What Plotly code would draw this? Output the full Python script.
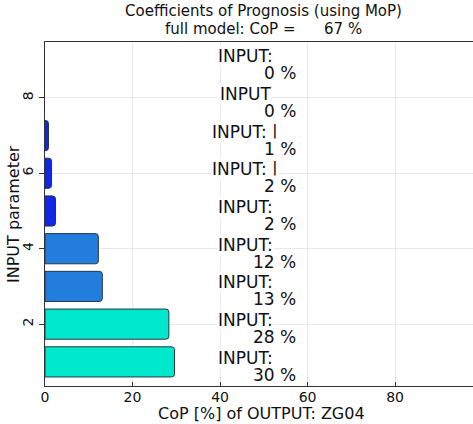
import plotly.graph_objects as go

# CoP contribution of each input parameter (percent)
params = [1, 2, 3, 4, 5, 6, 7, 8, 9]
cop = [29.6, 28.3, 13.1, 12.2, 2.4, 1.5, 0.8, 0.0, 0.0]
names = ["INPUT:", "INPUT:", "INPUT:", "INPUT:", "INPUT:", "INPUT: |", "INPUT: |", "INPUT", "INPUT:"]
bar_colors = ["#00e8cc", "#00e8cc", "#237ddc", "#237ddc",
              "#1028e6", "#1028e6", "#1028e6", "#1028e6", "#1028e6"]
full_cop = 67
xticks = [0, 20, 40, 60, 80]
yticks = [2, 4, 6, 8]

FONT = "DejaVu Sans"

# empty bars get no outline
line_w = [1 if v >= 0.5 else 0 for v in cop]

fig = go.Figure(go.Bar(
    x=cop, y=params, orientation="h", width=0.8,
    marker=dict(color=bar_colors, line=dict(color="#23384a", width=line_w)),
    hoverinfo="skip",
))

annotations = []
for p, v, n in zip(params, cop, names):
    annotations.append(dict(
        x=45.7, y=p, xref="x", yref="y", text=n, showarrow=False,
        xanchor="center", yanchor="middle", yshift=4,
        bgcolor="white", font=dict(family=FONT, size=17, color="#111"),
        borderpad=0,
    ))
    annotations.append(dict(
        x=57.6, y=p, xref="x", yref="y", text=f"{v:.0f} %", showarrow=False,
        xanchor="right", yanchor="middle", yshift=-13,
        bgcolor="white", font=dict(family=FONT, size=17, color="#111"),
        borderpad=0,
    ))

# two-line heading above the plot
annotations.append(dict(
    x=0.51, y=1, xref="paper", yref="paper", yshift=31,
    text="Coefficients of Prognosis (using MoP)", showarrow=False,
    xanchor="center", yanchor="middle",
    font=dict(family=FONT, size=15, color="#111"),
))
annotations.append(dict(
    x=0.51, y=1, xref="paper", yref="paper", yshift=13,
    text=f"full model: CoP =&nbsp;&nbsp;&nbsp;&nbsp;&nbsp; {full_cop} %", showarrow=False,
    xanchor="center", yanchor="middle",
    font=dict(family=FONT, size=15, color="#111"),
))

# axis titles
annotations.append(dict(
    x=0.505, y=0, xref="paper", yref="paper", yshift=-27,
    text="CoP [%] of OUTPUT: ZG04", showarrow=False,
    xanchor="center", yanchor="middle",
    font=dict(family=FONT, size=16, color="#111"),
))
annotations.append(dict(
    x=0, y=0.5, xref="paper", yref="paper", xshift=-32,
    text="INPUT parameter", showarrow=False, textangle=-90,
    xanchor="center", yanchor="middle",
    font=dict(family=FONT, size=16, color="#111"),
))

fig.update_layout(
    width=473, height=424,
    margin=dict(l=45, r=0, t=42, b=38),
    plot_bgcolor="white", paper_bgcolor="white",
    barcornerradius=3,
    showlegend=False,
    font=dict(family=FONT, size=15, color="#111"),
    annotations=annotations,
)

fig.update_xaxes(
    range=[0, 97.8], tickvals=xticks, showgrid=True, gridcolor="#e8e8e8",
    zeroline=False, showline=True, linecolor="#333", linewidth=1, mirror=True,
    ticks="inside", ticklen=4, tickcolor="#333",
    ticklabelstandoff=-2,
    tickfont=dict(family=FONT, size=14),
)
fig.update_yaxes(
    range=[0.36, 9.48], tickvals=yticks, tickangle=-90,
    showgrid=True, gridcolor="#e8e8e8", zeroline=False,
    showline=True, linecolor="#333", linewidth=1,
    ticks="outside", ticklen=5, tickcolor="#333",
    ticklabelstandoff=0,
    tickfont=dict(family=FONT, size=14),
)

fig.write_html("out.html")
